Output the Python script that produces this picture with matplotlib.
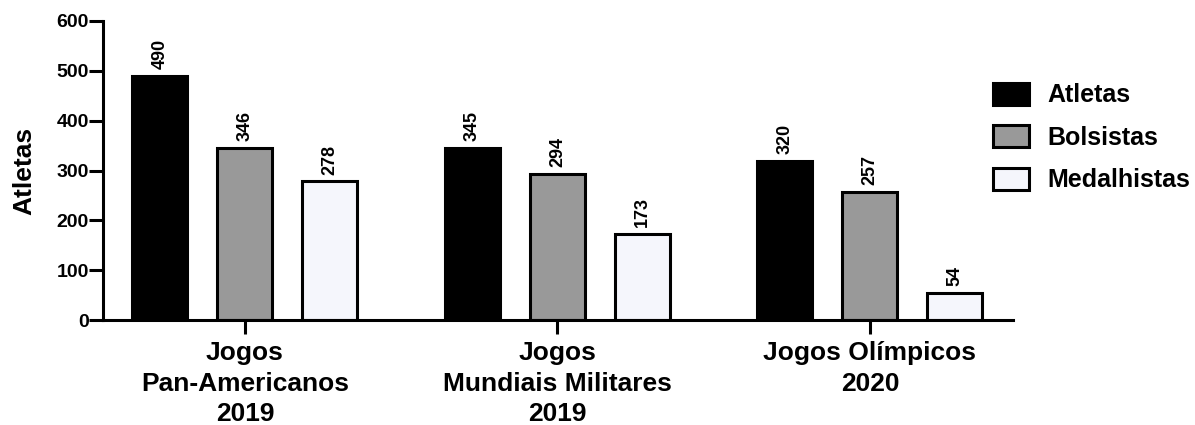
import numpy as np
import matplotlib.pyplot as plt

plt.rcParams['font.family'] = ['Liberation Sans', 'DejaVu Sans']
plt.rcParams['font.weight'] = 'bold'

# data
categorias = ['Jogos\nPan-Americanos\n2019', 'Jogos\nMundiais Militares\n2019', 'Jogos Olímpicos\n2020']
series = ['Atletas', 'Bolsistas', 'Medalhistas']
atletas = [490, 345, 320]
bolsistas = [346, 294, 257]
medalhistas = [278, 173, 54]
cores = ['#000000', '#999999', '#F5F6FC']

fig = plt.figure(figsize=(11.95, 4.25), dpi=100)
ax = fig.add_axes([0.0862, 0.247, 0.7615, 0.7036])

x = np.arange(len(categorias))
offs = [-0.272, 0.0, 0.272]
w = 0.176
for vals, off, cor, nome in zip([atletas, bolsistas, medalhistas], offs, cores, series):
    bars = ax.bar(x + off, vals, width=w, color=cor, edgecolor='black', linewidth=2.2, label=nome)
    for b, v in zip(bars, vals):
        ax.annotate(str(v), (b.get_x() + b.get_width() / 2, v), xytext=(0, 5),
                    textcoords='offset points', rotation=90, ha='center', va='bottom',
                    fontsize=13, fontweight='bold')

ax.set_xlim(-0.454, 2.458)
ax.set_ylim(0, 600)
ax.set_yticks(range(0, 601, 100))
ax.set_xticks(x)
ax.set_xticklabels(categorias, fontsize=19, fontweight='bold', linespacing=1.35)
ax.set_ylabel('Atletas', fontsize=19, fontweight='bold', labelpad=15)
for lbl in ax.get_yticklabels():
    lbl.set_fontsize(14)
    lbl.set_fontweight('bold')

for s in ['top', 'right']:
    ax.spines[s].set_visible(False)
for s in ['left', 'bottom']:
    ax.spines[s].set_linewidth(2.2)
ax.tick_params(axis='y', width=2.2, length=10, pad=0)
ax.tick_params(axis='x', width=2.2, length=10, pad=5)

ax.legend(loc='upper left', bbox_to_anchor=(993 / 1195, 1 - 83 / 425),
          bbox_transform=fig.transFigure, frameon=False, borderpad=0, borderaxespad=0,
          prop={'size': 18, 'weight': 'bold'}, handlelength=1.44, handleheight=0.96,
          labelspacing=0.72, handletextpad=0.72)

fig.savefig('out.png', dpi=100)
